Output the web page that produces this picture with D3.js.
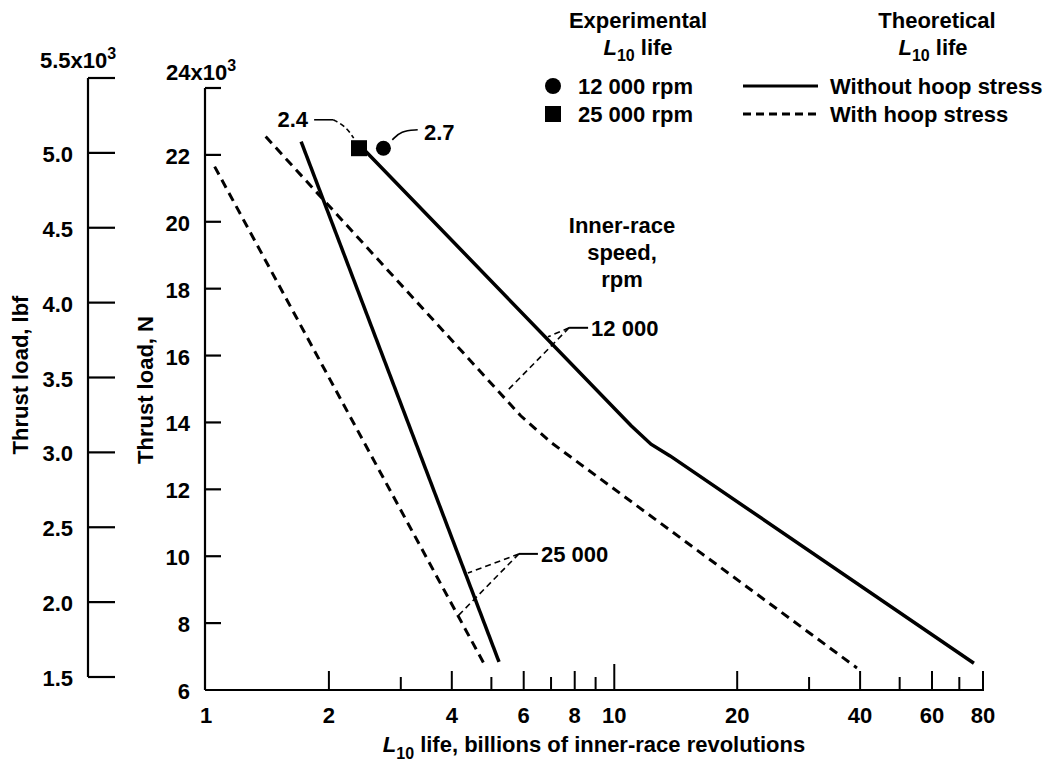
<!DOCTYPE html>
<html>
<head>
<meta charset="utf-8">
<script src="https://cdn.jsdelivr.net/npm/d3@7.9.0/dist/d3.min.js"></script>
<style>
  body { margin: 0; background: #fff; }
  svg { display: block; }
  text { font-family: 'Liberation Sans', Arial, sans-serif; font-weight: bold; font-size: 22px; fill: #000; }
</style>
</head>
<body>
<svg id="chart" width="1057" height="764"></svg>
<script>
// L10 life (billions of revs) vs thrust load (kN)
const without12k = [[2.42, 22.2], [11.0, 13.9], [12.3, 13.35], [13.7, 13.0], [76, 6.8]];
const with12k = [[1.40, 22.55], [5.9, 14.2], [7.0, 13.4], [39.3, 6.66]];
const without25k = [[1.71, 22.4], [5.22, 6.84]];
const with25k = [[1.05, 21.65], [4.79, 6.8]];

// experimental points
const expRpm = ['12 000 rpm', '25 000 rpm'];
const expLife = [2.72, 2.37];
const expLoad = [22.2, 22.2];
const expLabels = ['2.7', '2.4'];

// axes
const xTicks = [2, 3, 4, 5, 6, 7, 8, 9, 10, 20, 30, 40, 50, 60, 70, 80];
const xLabels = [1, 2, 4, 6, 8, 10, 20, 40, 60, 80];
const nTicks = [6, 8, 10, 12, 14, 16, 18, 20, 22, 24];
const lbfTicks = [1.5, 2.0, 2.5, 3.0, 3.5, 4.0, 4.5, 5.0, 5.5];

// leader lines, data units
const lead24 = [[1.84, 23.05], [2.05, 23.05], [2.2, 22.85], [2.3, 22.5]];
const lead27 = [[2.86, 22.45], [3.0, 22.72], [3.3, 22.75]];
const lead12kHub = [7.75, 16.83];
const lead12kEnds = [[6.88, 16.56], [5.43, 14.91]];
const lead25kHub = [5.84, 10.07];
const lead25kEnds = [[4.38, 9.5], [4.16, 8.24]];

const svg = d3.select('#chart');

const x = d3.scaleLog().domain([1, 80]).range([206, 983]);
const yN = d3.scaleLinear().domain([6, 24]).range([690, 88]);
const yLbf = d3.scaleLinear().domain([1.5, 5.5]).range([677, 78]);

const line = d3.line().x(d => x(d[0])).y(d => yN(d[1]));

// --- lbf axis (outer) ---
const axL = 88;
svg.append('line')
  .attr('x1', axL).attr('x2', axL)
  .attr('y1', yLbf(5.5)).attr('y2', yLbf(1.5))
  .attr('stroke', '#000').attr('stroke-width', 2.2);
svg.selectAll('.lbf-tick')
  .data(lbfTicks)
  .join('line')
  .attr('x1', axL).attr('x2', axL + 27)
  .attr('y1', d => yLbf(d)).attr('y2', d => yLbf(d))
  .attr('stroke', '#000').attr('stroke-width', 2.2);
svg.selectAll('.lbf-lab')
  .data(lbfTicks.slice(0, -1))
  .join('text')
  .attr('x', 73)
  .attr('y', d => yLbf(d) + 9)
  .attr('text-anchor', 'end')
  .text(d => d.toFixed(1));
const topL = svg.append('text').attr('x', 40).attr('y', yLbf(5.5) - 10);
topL.append('tspan').text('5.5x10');
topL.append('tspan').attr('dy', -9).attr('font-size', 16).text('3');

svg.append('text')
  .attr('transform', `translate(28,${375}) rotate(-90)`)
  .attr('text-anchor', 'middle')
  .text('Thrust load, lbf');

// --- N axis ---
const axN = 205;
svg.append('line')
  .attr('x1', axN).attr('x2', axN)
  .attr('y1', yN(24)).attr('y2', yN(6))
  .attr('stroke', '#000').attr('stroke-width', 2.2);
svg.selectAll('.n-tick')
  .data(nTicks.slice(1))
  .join('line')
  .attr('x1', axN).attr('x2', axN + 16)
  .attr('y1', d => yN(d)).attr('y2', d => yN(d))
  .attr('stroke', '#000').attr('stroke-width', 2.2);
svg.selectAll('.n-lab')
  .data(nTicks.slice(0, -1))
  .join('text')
  .attr('x', 190)
  .attr('y', d => yN(d) + 9)
  .attr('text-anchor', 'end')
  .text(d => d);
const topN = svg.append('text').attr('x', 166).attr('y', yN(24) - 8);
topN.append('tspan').text('24x10');
topN.append('tspan').attr('dy', -9).attr('font-size', 16).text('3');

svg.append('text')
  .attr('transform', `translate(153,${390}) rotate(-90)`)
  .attr('text-anchor', 'middle')
  .text('Thrust load, N');

// --- x axis ---
svg.append('line')
  .attr('x1', axN).attr('x2', x(80) + 1)
  .attr('y1', yN(6)).attr('y2', yN(6))
  .attr('stroke', '#000').attr('stroke-width', 2.2);
svg.selectAll('.x-tick')
  .data(xTicks)
  .join('line')
  .attr('x1', d => x(d)).attr('x2', d => x(d))
  .attr('y1', yN(6))
  .attr('y2', d => yN(6) - (d === 10 ? 26 : xLabels.includes(d) ? 19 : 13))
  .attr('stroke', '#000').attr('stroke-width', 2);
svg.selectAll('.x-lab')
  .data(xLabels)
  .join('text')
  .attr('x', d => x(d))
  .attr('y', 723)
  .attr('text-anchor', 'middle')
  .text(d => d);

const xt = svg.append('text').attr('x', 594).attr('y', 752).attr('text-anchor', 'middle');
xt.append('tspan').attr('font-style', 'italic').text('L');
xt.append('tspan').attr('dy', 7).attr('font-size', 16).text('10');
xt.append('tspan').attr('dy', -7).text(' life, billions of inner-race revolutions');

// --- curves ---
const curves = [
  { data: without12k, dash: null },
  { data: with12k, dash: '9,6' },
  { data: without25k, dash: null },
  { data: with25k, dash: '9,6' },
];
svg.selectAll('.curve')
  .data(curves)
  .join('path')
  .attr('d', d => line(d.data))
  .attr('fill', 'none')
  .attr('stroke', '#000')
  .attr('stroke-width', d => d.dash ? 3 : 3.5)
  .attr('stroke-dasharray', d => d.dash);

// --- leaders ---
function leader(pts, dash) {
  svg.append('path')
    .attr('d', d3.line().curve(d3.curveBasis).x(d => x(d[0])).y(d => yN(d[1]))(pts))
    .attr('fill', 'none').attr('stroke', '#000').attr('stroke-width', 1.6)
    .attr('stroke-dasharray', dash);
}
leader(lead24.slice(0, 2), null);
leader(lead24.slice(1), '5,3');
leader(lead27, null);

function hubLeader(hub, ends, label) {
  svg.append('line')
    .attr('x1', x(hub[0])).attr('x2', x(hub[0]) + 19)
    .attr('y1', yN(hub[1])).attr('y2', yN(hub[1]))
    .attr('stroke', '#000').attr('stroke-width', 2);
  ends.forEach(e => {
    svg.append('line')
      .attr('x1', x(hub[0])).attr('y1', yN(hub[1]))
      .attr('x2', x(e[0])).attr('y2', yN(e[1]))
      .attr('stroke', '#000').attr('stroke-width', 1.6)
      .attr('stroke-dasharray', '6,4');
  });
  svg.append('text')
    .attr('x', x(hub[0]) + 22).attr('y', yN(hub[1]) + 8)
    .text(label);
}
hubLeader(lead12kHub, lead12kEnds, '12 000');
hubLeader(lead25kHub, lead25kEnds, '25 000');

// --- experimental points ---
svg.append('circle')
  .attr('cx', x(expLife[0])).attr('cy', yN(expLoad[0])).attr('r', 7.5);
svg.append('rect')
  .attr('x', x(expLife[1]) - 8).attr('y', yN(expLoad[1]) - 8)
  .attr('width', 16).attr('height', 16);
svg.append('text').attr('x', 308).attr('y', 127).attr('text-anchor', 'end').text(expLabels[1]);
svg.append('text').attr('x', 424).attr('y', 140).text(expLabels[0]);

// inner-race label
['Inner-race', 'speed,', 'rpm'].forEach((t, i) => {
  svg.append('text').attr('x', 622).attr('y', 233 + i * 27)
    .attr('text-anchor', 'middle').text(t);
});

// --- legend ---
function l10(xc, y) {
  const t = svg.append('text').attr('x', xc).attr('y', y).attr('text-anchor', 'middle');
  t.append('tspan').attr('font-style', 'italic').text('L');
  t.append('tspan').attr('dy', 6).attr('font-size', 16).text('10');
  t.append('tspan').attr('dy', -6).text(' life');
}
svg.append('text').attr('x', 638).attr('y', 28).attr('text-anchor', 'middle').text('Experimental');
l10(638, 55);
svg.append('text').attr('x', 937).attr('y', 28).attr('text-anchor', 'middle').text('Theoretical');
l10(933, 55);

svg.append('circle').attr('cx', 553).attr('cy', 86).attr('r', 8);
svg.append('rect').attr('x', 545).attr('y', 106).attr('width', 16).attr('height', 16);
svg.append('text').attr('x', 578).attr('y', 94).text(expRpm[0]);
svg.append('text').attr('x', 578).attr('y', 122).text(expRpm[1]);

svg.append('line').attr('x1', 743).attr('x2', 818).attr('y1', 86).attr('y2', 86)
  .attr('stroke', '#000').attr('stroke-width', 3);
svg.append('line').attr('x1', 743).attr('x2', 818).attr('y1', 114).attr('y2', 114)
  .attr('stroke', '#000').attr('stroke-width', 3).attr('stroke-dasharray', '8,5');
svg.append('text').attr('x', 830).attr('y', 94).text('Without hoop stress');
svg.append('text').attr('x', 830).attr('y', 122).text('With hoop stress');
</script>
</body>
</html>
